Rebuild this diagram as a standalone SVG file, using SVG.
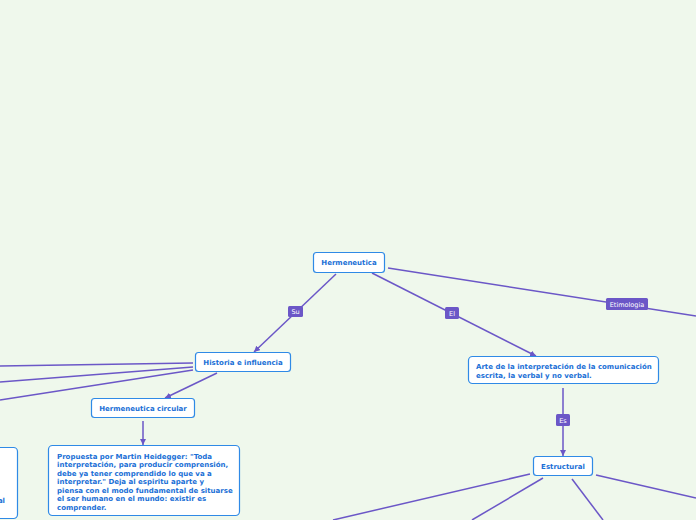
<svg xmlns="http://www.w3.org/2000/svg" width="696" height="520" viewBox="0 0 696 520">
<defs>
<marker id="arr" viewBox="0 0 10 10" refX="10" refY="5" markerWidth="6" markerHeight="6" markerUnits="userSpaceOnUse" orient="auto">
<path d="M0,0 L10,5 L0,10 z" fill="#6b57c7"/>
</marker>
<style>
.node rect{fill:#ffffff;stroke:#2f8ae6;stroke-width:1.2}
.node text{font-family:"DejaVu Sans",Verdana,sans-serif;font-weight:bold;font-size:7px;fill:#1a6fd6}
.c{stroke:#6b57c7;stroke-width:1.5;fill:none}
.lab rect{fill:#6b57c7}
.lab text{font-family:"DejaVu Sans",Verdana,sans-serif;font-size:6.5px;fill:#ffffff;text-anchor:middle}
</style>
</defs>
<rect width="696" height="520" fill="#eff8ec"/>
<g id="connectors">
<line class="c" x1="336" y1="274" x2="254" y2="352" marker-end="url(#arr)"/>
<line class="c" x1="372" y1="273" x2="536" y2="356" marker-end="url(#arr)"/>
<line class="c" x1="388" y1="268" x2="696" y2="316"/>
<line class="c" x1="193" y1="363" x2="0" y2="366"/>
<line class="c" x1="193" y1="367" x2="0" y2="382"/>
<line class="c" x1="193" y1="370" x2="0" y2="400"/>
<line class="c" x1="217" y1="373" x2="165" y2="398" marker-end="url(#arr)"/>
<line class="c" x1="143" y1="421" x2="143" y2="445" marker-end="url(#arr)"/>
<line class="c" x1="563" y1="388" x2="563" y2="456" marker-end="url(#arr)"/>
<line class="c" x1="530" y1="474" x2="333" y2="520"/>
<line class="c" x1="543" y1="478" x2="472" y2="520"/>
<line class="c" x1="572" y1="479" x2="603" y2="520"/>
<line class="c" x1="596" y1="475" x2="696" y2="498"/>
<g class="lab"><rect x="288" y="306" width="15" height="11" rx="1.5"/><text x="295.5" y="314">Su</text></g>
<g class="lab"><rect x="445" y="307" width="14" height="12" rx="1.5"/><text x="452" y="315.5">El</text></g>
<g class="lab"><rect x="606" y="298" width="42" height="12" rx="1.5"/><text x="627" y="306.5">Etimologia</text></g>
<g class="lab"><rect x="556" y="414" width="14" height="12" rx="1.5"/><text x="563" y="422.5">Es</text></g>
</g>
<g id="n-hermeneutica" class="node"><rect x="313.5" y="252.5" width="71" height="20" rx="3"/><text x="349" y="264.5" text-anchor="middle">Hermeneutica</text></g>
<g id="n-historia" class="node"><rect x="195.5" y="352.5" width="95" height="19" rx="3"/><text x="243" y="364.5" text-anchor="middle">Historia e influencia</text></g>
<g id="n-circular" class="node"><rect x="91.5" y="398.5" width="103" height="19" rx="3"/><text x="143" y="410.5" text-anchor="middle">Hermeneutica circular</text></g>
<g id="n-propuesta" class="node"><rect x="48.5" y="445.5" width="191" height="70" rx="4"/>
<text x="57" y="458.5">Propuesta por Martin Heidegger: "Toda</text>
<text x="57" y="467">interpretación, para producir comprensión,</text>
<text x="57" y="475.5">debe ya tener comprendido lo que va a</text>
<text x="57" y="484">interpretar." Deja al espiritu aparte y</text>
<text x="57" y="492.5">piensa con el modo fundamental de situarse</text>
<text x="57" y="501">el ser humano en el mundo: existir es</text>
<text x="57" y="509.5">comprender.</text>
</g>
<g id="n-left" class="node"><rect x="-20" y="447.5" width="37.5" height="71" rx="4"/><text x="5" y="502.5" text-anchor="end">al</text></g>
<g id="n-arte" class="node"><rect x="468.5" y="356.5" width="190" height="27" rx="4"/>
<text x="476" y="368.5">Arte de la interpretación de la comunicación</text>
<text x="476" y="377.5">escrita, la verbal y no verbal.</text>
</g>
<g id="n-estructural" class="node"><rect x="533.5" y="456.5" width="59" height="19" rx="3"/><text x="563" y="468.5" text-anchor="middle">Estructural</text></g>
</svg>
